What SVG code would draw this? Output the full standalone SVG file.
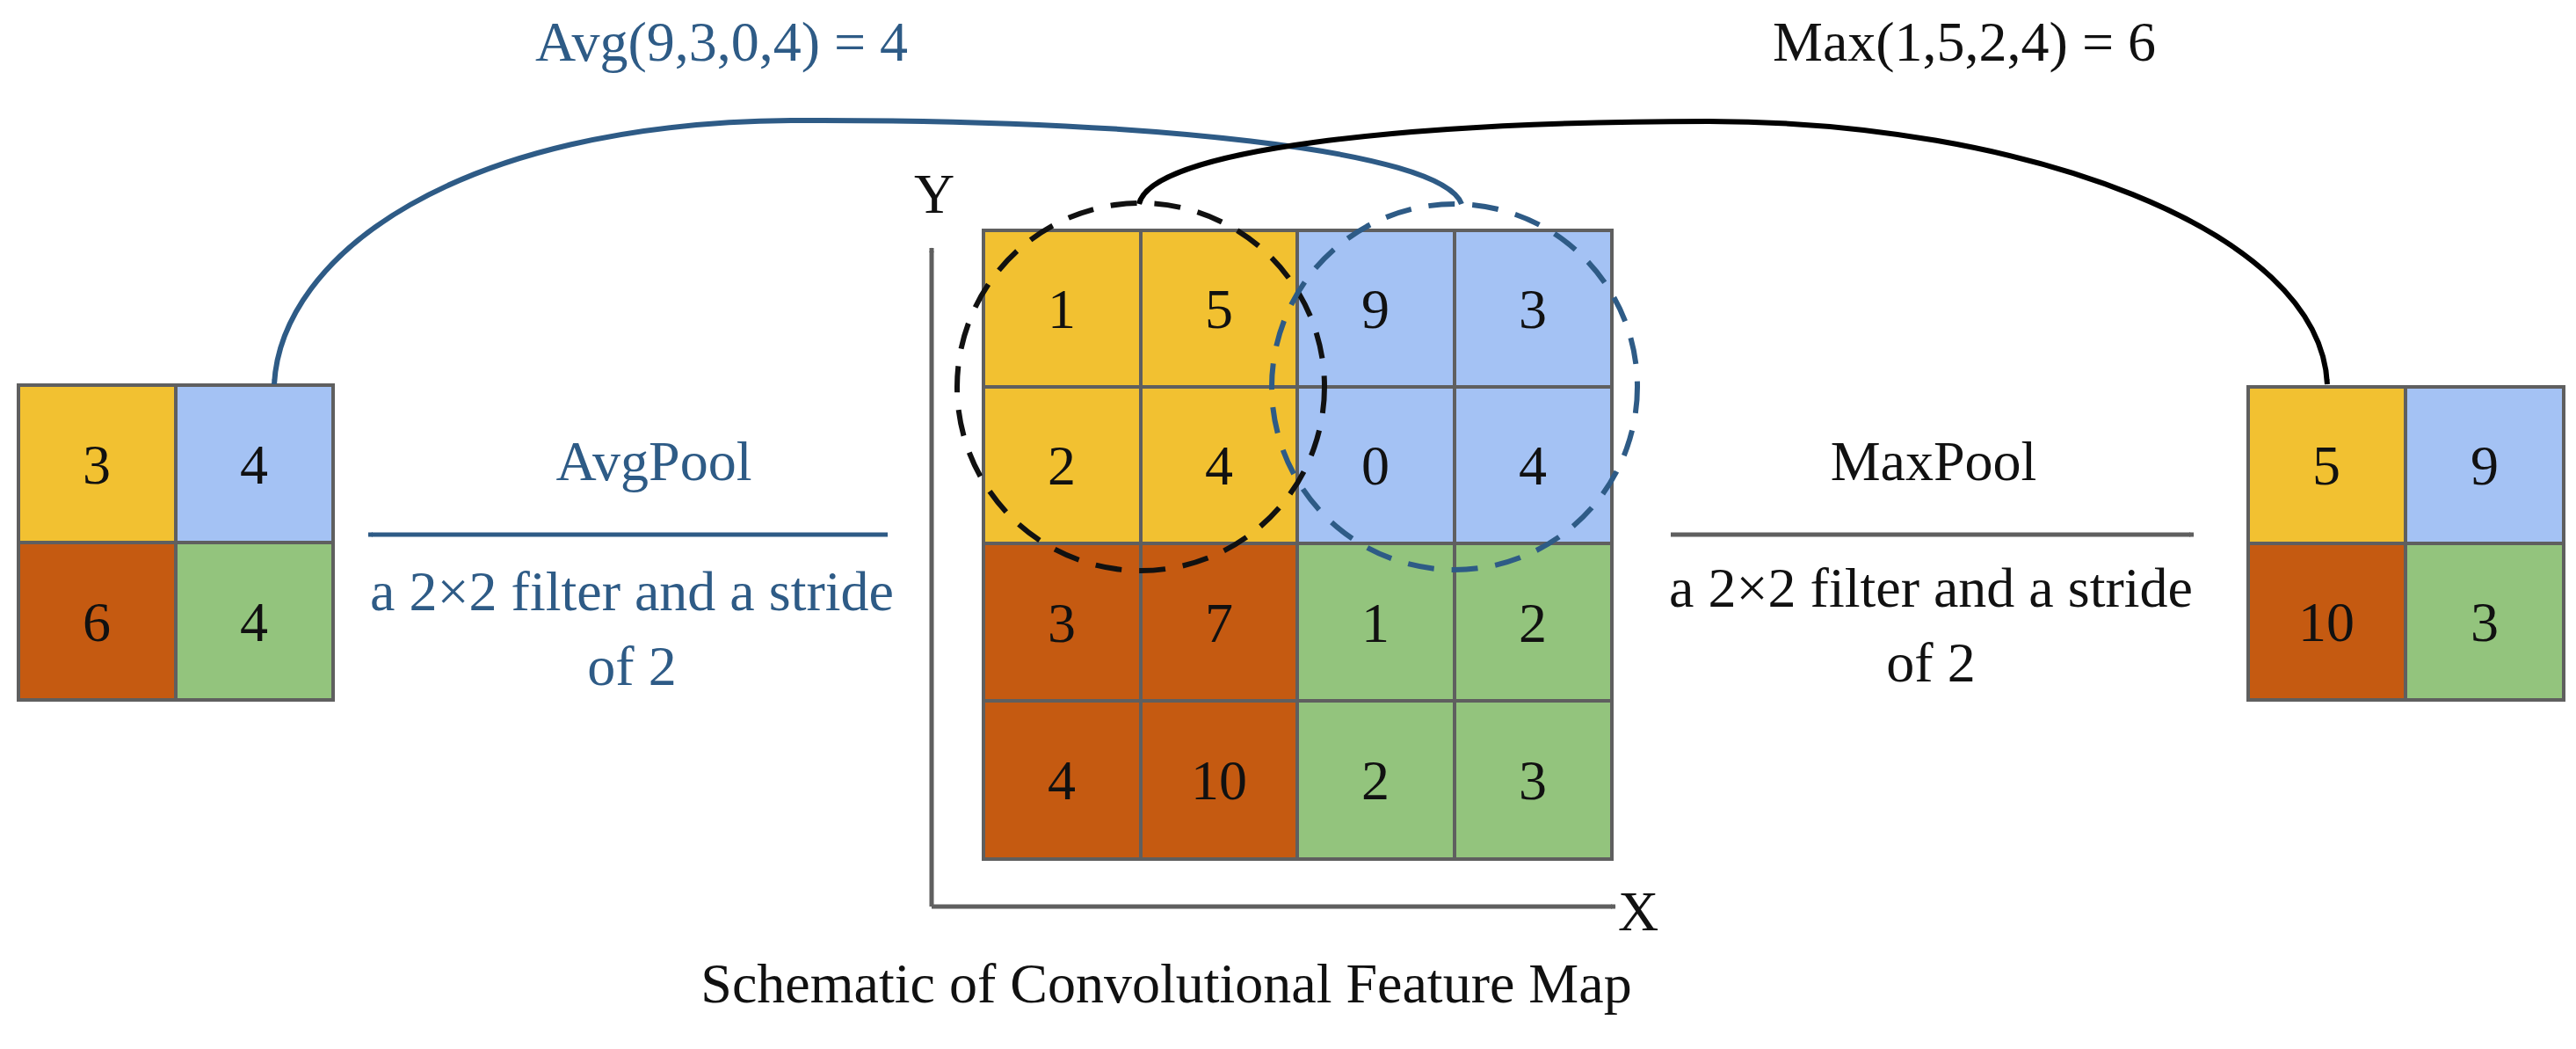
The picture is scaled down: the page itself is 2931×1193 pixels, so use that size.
<svg xmlns="http://www.w3.org/2000/svg" width="2931" height="1193" viewBox="0 0 2931 1193">
<defs>
<style>
.c{stroke:#5f5f5f;stroke-width:4}
.y{fill:#f2c131}.b{fill:#a4c2f4}.o{fill:#c55a11}.g{fill:#93c47d}
text{font-family:"Liberation Serif","Times New Roman",serif;font-size:64px}
.n{text-anchor:middle;fill:#111}
.bl{fill:#2e5b86;text-anchor:middle}
.k{fill:#111;text-anchor:middle}
</style>
<marker id="ab" viewBox="0 0 10 10" refX="9" refY="5" markerWidth="6" markerHeight="6" orient="auto" markerUnits="userSpaceOnUse"><path d="M0,0L10,5L0,10z" fill="#2e5b86"/></marker>
<marker id="ak" viewBox="0 0 10 10" refX="9" refY="5" markerWidth="6" markerHeight="6" orient="auto" markerUnits="userSpaceOnUse"><path d="M0,0L10,5L0,10z" fill="#000"/></marker>
<marker id="ag" viewBox="0 0 10 10" refX="9" refY="5" markerWidth="6" markerHeight="6" orient="auto" markerUnits="userSpaceOnUse"><path d="M0,0L10,5L0,10z" fill="#5f5f5f"/></marker>
</defs>
<rect width="2931" height="1193" fill="#fff"/>
<g id="feature-map">
<rect class="c y" x="1119" y="262" width="179" height="178"/><rect class="c y" x="1298" y="262" width="178" height="178"/>
<rect class="c b" x="1476" y="262" width="179" height="178"/><rect class="c b" x="1655" y="262" width="179" height="178"/>
<rect class="c y" x="1119" y="440" width="179" height="178"/><rect class="c y" x="1298" y="440" width="178" height="178"/>
<rect class="c b" x="1476" y="440" width="179" height="178"/><rect class="c b" x="1655" y="440" width="179" height="178"/>
<rect class="c o" x="1119" y="618" width="179" height="179"/><rect class="c o" x="1298" y="618" width="178" height="179"/>
<rect class="c g" x="1476" y="618" width="179" height="179"/><rect class="c g" x="1655" y="618" width="179" height="179"/>
<rect class="c o" x="1119" y="797" width="179" height="180"/><rect class="c o" x="1298" y="797" width="178" height="180"/>
<rect class="c g" x="1476" y="797" width="179" height="180"/><rect class="c g" x="1655" y="797" width="179" height="180"/>
<text class="n" x="1208" y="373">1</text><text class="n" x="1387" y="373">5</text><text class="n" x="1565" y="373">9</text><text class="n" x="1744" y="373">3</text>
<text class="n" x="1208" y="551">2</text><text class="n" x="1387" y="551">4</text><text class="n" x="1565" y="551">0</text><text class="n" x="1744" y="551">4</text>
<text class="n" x="1208" y="730">3</text><text class="n" x="1387" y="730">7</text><text class="n" x="1565" y="730">1</text><text class="n" x="1744" y="730">2</text>
<text class="n" x="1208" y="909">4</text><text class="n" x="1387" y="909">10</text><text class="n" x="1565" y="909">2</text><text class="n" x="1744" y="909">3</text>
</g>
<g id="axes">
<line x1="1060" y1="1031" x2="1060" y2="282" stroke="#5f5f5f" stroke-width="5" marker-end="url(#ag)"/>
<line x1="1060" y1="1031" x2="1838" y2="1031" stroke="#5f5f5f" stroke-width="5" marker-end="url(#ag)"/>
<text class="k" x="1063" y="242">Y</text>
<text class="k" x="1864" y="1058">X</text>
</g>
<g id="windows">
<circle cx="1298" cy="440" r="209" fill="none" stroke="#111" stroke-width="6" stroke-dasharray="30,20"/>
<circle cx="1655" cy="440" r="208" fill="none" stroke="#2e5b86" stroke-width="6" stroke-dasharray="30,20"/>
</g>
<g id="avg-output">
<rect class="c y" x="21" y="438" width="179" height="179"/><rect class="c b" x="200" y="438" width="179" height="179"/>
<rect class="c o" x="21" y="617" width="179" height="179"/><rect class="c g" x="200" y="617" width="179" height="179"/>
<text class="n" x="110" y="550">3</text><text class="n" x="289" y="550">4</text>
<text class="n" x="110" y="729">6</text><text class="n" x="289" y="729">4</text>
</g>
<g id="max-output">
<rect class="c y" x="2558" y="440" width="179" height="178"/><rect class="c b" x="2737" y="440" width="180" height="178"/>
<rect class="c o" x="2558" y="618" width="179" height="178"/><rect class="c g" x="2737" y="618" width="180" height="178"/>
<text class="n" x="2647" y="551">5</text><text class="n" x="2827" y="551">9</text>
<text class="n" x="2647" y="729">10</text><text class="n" x="2827" y="729">3</text>
</g>
<g id="connectors" fill="none">
<path d="M1663,232 C1640,170 1300,135 900,137 C520,140 320,290 312,437" stroke="#2e5b86" stroke-width="6" marker-end="url(#ab)"/>
<path d="M1296,232 C1310,170 1600,138 1944,138 C2300,138 2640,260 2648,437" stroke="#000" stroke-width="6" marker-end="url(#ak)"/>
<line x1="1010" y1="608" x2="419" y2="608" stroke="#2e5b86" stroke-width="5" marker-end="url(#ab)"/>
<line x1="1901" y1="608" x2="2496" y2="608" stroke="#5f5f5f" stroke-width="5" marker-end="url(#ag)"/>
</g>
<g id="labels">
<text class="bl" x="821" y="69">Avg(9,3,0,4) = 4</text>
<text class="k" x="2235" y="69">Max(1,5,2,4) = 6</text>
<text class="bl" x="744" y="546">AvgPool</text>
<text class="bl" x="719" y="694">a 2×2 filter and a stride</text>
<text class="bl" x="719" y="779">of 2</text>
<text class="k" x="2200" y="546">MaxPool</text>
<text class="k" x="2197" y="690">a 2×2 filter and a stride</text>
<text class="k" x="2197" y="775">of 2</text>
<text class="k" x="1327" y="1140">Schematic of Convolutional Feature Map</text>
</g>
</svg>
